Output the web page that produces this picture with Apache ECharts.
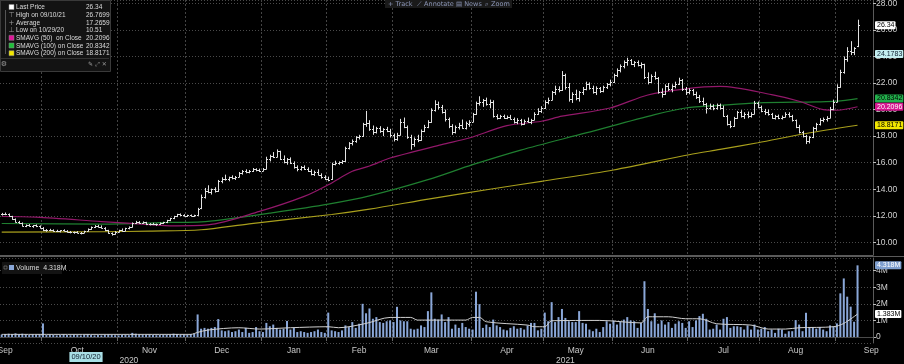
<!DOCTYPE html>
<html><head><meta charset="utf-8">
<script src="https://cdn.jsdelivr.net/npm/echarts@6/dist/echarts.min.js"></script>
<style>html,body{margin:0;padding:0;background:#000;}#c{width:904px;height:364px;}</style>
</head><body><div id="c"></div>
<script>
// ---- data ----
// daily bars from 2020-09-15 to 2021-09-10: [open, high, low, close]
const bars = [
[12.10,12.22,12.02,12.15],[12.15,12.25,12.05,12.12],[12.10,12.18,11.95,12.00],[11.95,12.00,11.70,11.75],[11.75,11.80,11.50,11.55],
[11.55,11.62,11.40,11.48],[11.45,11.50,11.20,11.25],[11.25,11.35,11.15,11.30],[11.30,11.38,11.18,11.22],[11.22,11.30,11.10,11.28],
[11.28,11.35,11.15,11.20],[11.20,11.28,11.05,11.10],[11.10,11.15,10.85,10.90],[10.92,11.00,10.80,10.95],[10.95,11.02,10.85,10.90],
[10.90,10.98,10.80,10.88],[10.88,10.95,10.78,10.85],[10.85,10.92,10.75,10.90],[10.90,10.98,10.82,10.86],[10.86,10.92,10.74,10.80],
[10.80,10.86,10.68,10.75],[10.75,10.82,10.65,10.78],[10.78,10.85,10.68,10.72],[10.72,10.78,10.60,10.70],[10.72,10.88,10.70,10.85],
[10.85,11.05,10.82,11.00],[11.00,11.20,10.95,11.15],[11.15,11.30,11.08,11.25],[11.25,11.32,11.12,11.18],[11.18,11.28,11.05,11.10],
[11.10,11.15,10.85,10.90],[10.90,10.95,10.65,10.70],[10.70,10.75,10.51,10.60],[10.62,10.85,10.58,10.80],[10.80,10.95,10.75,10.90],
[10.90,11.05,10.82,10.88],[10.88,11.10,10.85,11.05],[11.05,11.20,10.98,11.15],[11.15,11.50,11.12,11.45],[11.45,11.62,11.38,11.55],
[11.55,11.60,11.40,11.45],[11.45,11.58,11.40,11.52],[11.50,11.55,11.30,11.35],[11.35,11.45,11.28,11.40],[11.40,11.48,11.30,11.35],
[11.35,11.42,11.25,11.38],[11.38,11.50,11.32,11.45],[11.45,11.55,11.38,11.50],[11.50,11.70,11.45,11.65],[11.65,11.85,11.60,11.80],
[11.80,12.00,11.75,11.95],[11.95,12.15,11.90,12.10],[12.10,12.18,11.98,12.05],[12.05,12.12,11.95,12.00],[12.00,12.08,11.92,12.05],
[12.05,12.10,11.95,11.98],[11.98,12.08,11.92,12.05],[12.05,12.60,12.00,12.50],[12.60,13.60,12.50,13.40],[13.40,14.10,13.30,13.90],
[13.90,14.30,13.70,13.80],[13.80,14.05,13.60,14.00],[14.00,14.15,13.75,13.85],[13.85,14.70,13.80,14.60],[14.60,14.90,14.45,14.80],
[14.80,15.10,14.65,14.75],[14.75,14.95,14.60,14.90],[14.90,15.05,14.75,14.85],[14.85,15.00,14.70,14.95],[14.95,15.30,14.90,15.20],
[15.20,15.45,15.10,15.35],[15.35,15.50,15.20,15.30],[15.30,15.45,15.20,15.40],[15.40,15.60,15.30,15.50],[15.50,15.58,15.35,15.45],
[15.45,15.55,15.30,15.38],[15.40,15.60,15.35,15.55],[15.55,16.45,15.50,16.30],[16.30,16.60,16.10,16.50],[16.50,16.80,16.35,16.45],
[16.45,17.00,16.40,16.85],[16.85,16.90,16.20,16.30],[16.30,16.55,15.95,16.05],[16.05,16.35,15.85,16.25],[16.25,16.40,15.90,16.00],
[16.00,16.10,15.55,15.65],[15.65,15.80,15.35,15.50],[15.50,15.75,15.40,15.70],[15.70,15.80,15.45,15.55],[15.55,15.65,15.30,15.40],
[15.40,15.50,15.05,15.15],[15.15,15.40,15.00,15.30],[15.30,15.50,15.05,15.10],[15.10,15.20,14.80,14.90],[14.90,15.05,14.70,14.80],
[14.80,14.95,14.60,14.70],[14.75,16.00,14.70,15.90],[15.90,16.15,15.80,15.95],[15.95,16.10,15.85,16.05],[16.05,16.20,15.90,16.10],
[16.10,17.20,16.05,17.10],[17.10,17.55,17.00,17.45],[17.45,17.75,17.30,17.60],[17.60,18.00,17.50,17.90],[17.90,18.10,17.75,18.00],
[18.00,19.00,17.95,18.90],[18.90,19.90,18.70,19.00],[19.00,19.20,18.40,18.55],[18.55,18.80,18.10,18.30],[18.30,18.70,18.20,18.60],
[18.60,18.75,18.25,18.35],[18.35,18.60,18.00,18.50],[18.50,18.70,18.30,18.40],[18.40,18.55,17.90,18.05],[18.05,18.20,17.60,17.75],
[17.75,18.25,17.65,18.10],[18.10,19.30,18.05,19.10],[19.10,19.40,18.60,18.70],[18.70,18.80,17.80,17.95],[17.95,18.10,16.98,17.40],
[17.40,17.90,17.20,17.80],[17.80,18.10,17.55,17.70],[17.70,18.50,17.65,18.40],[18.40,18.85,18.30,18.70],[18.70,19.20,18.60,19.05],
[19.05,20.10,19.00,19.95],[19.95,20.70,19.85,20.40],[20.40,20.60,20.00,20.20],[20.20,20.35,19.70,19.85],[19.85,20.00,19.10,19.30],
[19.30,19.40,18.60,18.75],[18.75,18.90,18.10,18.30],[18.30,18.80,18.20,18.70],[18.70,19.00,18.50,18.85],[18.85,19.25,18.55,18.65],
[18.65,19.10,18.50,19.00],[18.95,19.20,18.70,19.10],[19.10,19.75,19.05,19.65],[19.65,20.60,19.60,20.50],[20.50,21.00,20.30,20.60],
[20.60,20.80,20.20,20.70],[20.70,20.90,20.30,20.45],[20.45,20.75,20.10,20.60],[20.60,20.70,19.40,19.55],[19.55,19.65,19.25,19.40],
[19.40,19.60,19.30,19.50],[19.50,19.62,19.30,19.35],[19.35,19.55,19.28,19.45],[19.45,19.60,19.25,19.30],[19.30,19.40,18.95,19.10],
[19.10,19.35,18.90,19.25],[19.25,19.30,18.80,18.95],[18.95,19.25,18.85,19.15],[19.15,19.40,19.00,19.05],[19.05,19.30,18.90,19.25],
[19.25,19.80,19.20,19.70],[19.70,20.10,19.60,19.90],[19.90,20.25,19.75,20.15],[20.15,20.70,20.05,20.60],[20.60,20.90,20.40,20.75],
[20.75,21.40,20.70,21.30],[21.30,21.80,21.10,21.55],[21.55,21.75,21.30,21.45],[21.45,22.90,21.40,22.60],[22.60,22.70,21.50,21.70],
[21.70,22.00,20.60,20.80],[20.80,21.30,20.50,21.20],[21.20,21.50,20.70,20.90],[20.90,21.40,20.60,21.30],[21.30,21.70,21.10,21.55],
[21.55,22.10,21.45,21.95],[21.95,22.05,21.50,21.65],[21.65,21.80,21.20,21.35],[21.35,21.75,21.10,21.60],[21.60,21.70,21.25,21.40],
[21.40,21.80,21.30,21.70],[21.70,22.00,21.55,21.90],[21.90,22.25,21.75,22.10],[22.10,22.70,22.00,22.60],[22.60,23.10,22.45,22.95],
[22.95,23.40,22.80,23.25],[23.25,23.70,23.10,23.55],[23.55,23.90,23.30,23.70],[23.70,23.80,23.35,23.45],[23.45,23.65,23.20,23.55],
[23.55,23.70,23.25,23.35],[23.35,23.55,23.10,23.40],[23.40,23.45,22.30,22.45],[22.45,22.80,21.90,22.05],[22.05,22.65,22.00,22.55],
[22.55,22.85,22.25,22.35],[22.35,22.45,21.20,21.35],[21.35,21.60,20.90,21.20],[21.20,21.90,21.10,21.75],[21.75,22.00,21.40,21.55],
[21.55,21.90,21.30,21.80],[21.80,22.10,21.60,21.95],[21.95,22.40,21.85,22.20],[22.20,22.30,21.40,21.55],[21.55,21.70,21.10,21.30],
[21.30,21.60,21.15,21.45],[21.45,21.55,21.05,21.20],[21.20,21.35,20.80,20.95],[20.95,21.10,20.50,20.65],[20.65,20.90,20.30,20.40],
[20.40,20.50,19.70,20.15],[20.15,20.45,20.00,20.30],[20.30,20.40,19.95,20.10],[20.10,20.45,20.00,20.35],[20.35,20.45,20.00,20.15],
[20.15,20.30,19.45,19.55],[19.55,19.60,18.80,18.95],[18.95,19.15,18.60,18.75],[18.75,19.45,18.70,19.35],[19.35,19.90,19.30,19.80],
[19.80,19.95,19.40,19.55],[19.55,19.80,19.30,19.70],[19.70,19.85,19.35,19.50],[19.50,19.80,19.40,19.70],[19.70,20.65,19.65,20.50],
[20.50,20.60,20.10,20.20],[20.20,20.30,19.80,19.90],[19.90,20.05,19.60,19.85],[19.85,20.00,19.55,19.65],[19.65,19.75,19.30,19.40],
[19.40,19.60,19.25,19.50],[19.50,19.62,19.28,19.35],[19.35,19.55,19.25,19.45],[19.45,19.80,19.40,19.70],[19.70,19.80,19.40,19.50],
[19.50,19.60,19.10,19.20],[19.20,19.25,18.60,18.70],[18.70,18.85,18.20,18.30],[18.30,18.40,17.90,18.00],[18.00,18.10,17.40,17.60],
[17.60,18.00,17.45,17.90],[17.90,18.70,17.85,18.60],[18.60,19.00,18.40,18.90],[18.90,19.35,18.80,19.20],[19.20,19.40,19.05,19.30],
[19.30,19.50,19.10,19.40],[19.40,20.20,19.35,20.05],[20.05,20.75,19.95,20.60],[20.60,21.90,20.55,21.70],[21.70,23.00,21.65,22.80],
[22.80,24.00,22.70,23.80],[23.80,24.70,23.60,24.40],[24.40,25.15,24.10,24.30],[24.30,24.70,24.10,24.60],[24.75,26.77,24.70,26.34]
];
// daily volume, millions
const volumes = [
0.15,0.18,0.20,0.17,0.22,0.18,0.20,0.15,0.12,0.15,0.14,0.16,0.82,0.12,0.14,0.13,0.10,0.12,0.15,0.12,
0.11,0.14,0.12,0.10,0.13,0.16,0.12,0.10,0.12,0.10,0.13,0.15,0.12,0.11,0.10,0.13,0.12,0.11,0.25,0.20,
0.15,0.12,0.13,0.14,0.12,0.11,0.13,0.12,0.15,0.13,0.20,0.18,0.14,0.15,0.13,0.18,0.20,1.36,0.50,0.55,
0.50,0.55,0.60,1.08,0.40,0.35,0.40,0.30,0.35,0.45,0.30,0.55,0.25,0.30,0.60,0.35,0.30,0.85,0.65,0.75,
0.55,0.45,0.50,0.97,0.45,0.55,0.30,0.35,0.30,0.25,0.30,0.35,0.45,0.30,0.25,1.47,0.40,0.35,0.30,0.40,
0.70,0.60,0.90,0.55,0.80,2.00,1.43,1.72,1.10,1.20,0.90,0.85,0.95,1.00,0.90,1.82,1.00,0.95,0.95,0.50,
0.45,0.50,0.70,0.60,1.56,2.69,1.10,1.05,1.36,0.90,1.20,0.50,0.75,0.55,0.85,0.60,0.50,0.45,2.73,1.98,
0.55,0.75,0.60,1.05,0.70,0.60,0.45,0.40,0.55,0.65,0.50,0.55,0.45,0.70,0.85,0.85,0.40,0.50,1.47,0.95,
2.10,0.90,1.20,1.69,1.15,0.95,0.90,0.90,1.56,0.85,0.80,0.45,0.35,0.50,0.30,0.60,0.95,0.80,1.00,0.75,
0.95,1.05,1.20,1.00,0.95,0.55,0.85,3.36,1.69,0.95,1.43,0.80,1.00,0.75,0.90,0.55,0.80,0.95,0.85,0.55,
0.95,0.60,1.00,1.26,1.40,1.10,0.45,0.50,0.75,0.45,1.10,1.20,0.55,0.65,0.65,0.60,0.45,0.70,0.45,0.75,
0.45,0.50,0.60,0.35,0.45,0.25,0.50,0.45,0.20,0.35,0.35,1.02,0.75,0.35,1.46,0.55,0.60,0.50,0.60,0.45,
0.35,0.70,0.65,0.82,2.63,3.53,2.43,1.83,0.92,4.318
];
// moving averages read at sampled bars: [bar index, value]
const sma50 = [[0,11.95],[10,11.9],[29,11.57],[44,11.32],[49,11.25],[60,11.32],[75,12.33],[88,13.46],[95,14.34],
  [102,15.35],[107,15.75],[113,16.35],[128,17.36],[136,17.86],[147,18.79],[157,19.12],[163,19.5],[177,20.12],
  [188,21.1],[199,21.56],[209,21.74],[224,21.13],[232,20.63],[239,20.0],[243,19.95],[249,20.21]];
const sma100 = [[0,11.42],[29,11.38],[49,11.5],[58,11.55],[64,11.7],[78,12.2],[95,12.88],[107,13.5],[124,14.72],
  [137,15.85],[151,16.95],[170,18.24],[190,19.62],[199,20.12],[209,20.32],[220,20.5],[237,20.58],[243,20.63],[249,20.83]];
const sma200 = [[0,10.77],[29,10.8],[43,10.85],[58,10.95],[72,11.4],[96,12.1],[107,12.5],[125,13.3],[142,14.0],
  [157,14.6],[178,15.45],[200,16.6],[209,17.0],[220,17.5],[234,18.2],[249,18.82]];
const volAvg = [[0,0.16],[55,0.16],[57,0.28],[60,0.42],[69,0.56],[75,0.48],[84,0.56],[95,0.62],[98,0.56],[106,0.82],
  [113,1.18],[119,1.18],[121,1.02],[135,1.02],[137,1.18],[139,1.18],[141,0.92],[153,0.72],[155,0.62],[158,0.62],
  [160,0.98],[174,1.0],[186,0.85],[188,1.22],[194,1.22],[199,1.1],[203,1.1],[208,0.8],[218,0.72],[223,0.48],
  [228,0.48],[232,0.56],[242,0.62],[245,0.82],[249,1.383]];
const priceTicks = ['10.00','12.00','14.00','16.00','18.00','20.00','22.00','24.00','26.00','28.00'];
const volTicks = ['0','1M','2M','3M','4M'];
const monthNames = ['Jan','Feb','Mar','Apr','May','Jun','Jul','Aug','Sep','Oct','Nov','Dec'];
const legendRows = [
  ['Last Price','26.34','#ffffff','sq'],
  ['High on 09/10/21','26.7699','#aaaaaa','hi'],
  ['Average','17.2659','#aaaaaa','avg'],
  ['Low on 10/29/20','10.51','#aaaaaa','lo'],
  ['SMAVG (50)  on Close','20.2096','#e0179a','sq'],
  ['SMAVG (100) on Close','20.8342','#1fbf3a','sq'],
  ['SMAVG (200) on Close','18.8171','#f2e600','sq']
];
const lastTags = [
  [26.34,'26.34','#ffffff','#000'],
  [24.1783,'24.1783','#c4eef0','#123'],
  [20.8342,'20.8342','#22b14c','#000'],
  [20.2096,'20.2096','#d6168f','#fff'],
  [18.8171,'18.8171','#f2e600','#000']
];
const volTags = [[4.318,'4.318M','#7f9fcf','#fff'],[1.383,'1.383M','#ffffff','#000']];
const toolbarItems = ['+ Track','⟋ Annotate','▤ News','⌕ Zoom'];

// ---- trading calendar ----
const holidays = new Set(['2020-09-07','2020-11-26','2020-12-25','2021-01-01','2021-01-18','2021-02-15','2021-04-02','2021-05-31','2021-07-05','2021-09-06']);
function ymd(d){return d.toISOString().slice(0,10);}
const allDays = [];
for (let d = new Date(Date.UTC(2020,8,1)); d <= new Date(Date.UTC(2021,8,30)); d.setUTCDate(d.getUTCDate()+1)) {
  const wd = d.getUTCDay(); const s = ymd(d);
  if (wd !== 0 && wd !== 6 && !holidays.has(s)) allDays.push(s);
}
const startIdx = allDays.indexOf('2020-09-15');
const endIdx = allDays.indexOf('2021-09-16');
const dates = allDays.slice(startIdx, endIdx + 1);
const monthStart = new Set(); const monthMid = new Set();
{
  const groups = {};
  allDays.forEach((s,i)=>{const k=s.slice(0,7); (groups[k]=groups[k]||[]).push(i-startIdx);});
  Object.values(groups).forEach(g=>{ if (g[0]>0) monthStart.add(g[0]); monthMid.add(Math.floor((g[0]+g[g.length-1])/2)); });
}
const yearMid = new Set();
{
  const yg = {};
  dates.forEach((s,i)=>{const k=s.slice(0,4); (yg[k]=yg[k]||[]).push(i);});
  Object.values(yg).forEach(g=>yearMid.add(Math.floor((g[0]+g[g.length-1])/2)));
}

const FONT = 'Liberation Sans, Arial, sans-serif';
const gridLineH = {show:true, lineStyle:{color:'#4a4a4a', type:[1,2], width:1}};
const gridLineV = {show:true, lineStyle:{color:'#444', type:[2,2], width:1}};

function tagLine(list){
  return {silent:true, symbol:['none','none'], animation:false,
    lineStyle:{color:'rgba(0,0,0,0)', width:0, opacity:1},
    data:list.map(t=>({yAxis:t[0], lineStyle:{color:'rgba(0,0,0,0)', width:0, opacity:1},
      label:{show:true, position:'end', distance:2, formatter:t[1], opacity:1,
      backgroundColor:t[2], color:t[3], fontSize:7, fontFamily:FONT, padding:[1,1,0,2], borderRadius:1}}))};
}

const chart = echarts.init(document.getElementById('c'), null, {renderer:'canvas'});
const option = {
  backgroundColor:'#000',
  animation:false,
  textStyle:{fontFamily:FONT},
  grid:[
    {left:0, right:31, top:0, height:255, outerBoundsMode:'none'},
    {left:0, right:31, top:258, height:85, outerBoundsMode:'none'}
  ],
  xAxis:[
    {type:'category', gridIndex:0, data:dates, boundaryGap:true,
     axisLine:{show:true, lineStyle:{color:'#5a5a5a'}}, axisTick:{show:false}, axisLabel:{show:false},
     splitLine:Object.assign({interval:(i)=>monthStart.has(i)}, gridLineV)},
    {type:'category', gridIndex:1, data:dates, boundaryGap:true,
     axisLine:{show:true, lineStyle:{color:'#4a4a4a'}},
     axisTick:{show:true, interval:(i)=>monthStart.has(i), length:4, lineStyle:{color:'#666'}},
     axisLabel:{interval:(i)=>monthMid.has(i), formatter:(v)=>monthNames[+v.slice(5,7)-1],
       color:'#c8c8c8', fontSize:8.5, margin:3, hideOverlap:false},
     splitLine:Object.assign({interval:(i)=>monthStart.has(i)}, gridLineV)},
    {type:'category', gridIndex:1, data:dates, boundaryGap:true, position:'bottom', offset:10,
     axisLine:{show:false}, axisTick:{show:false}, splitLine:{show:false},
     axisLabel:{interval:(i)=>yearMid.has(i), formatter:(v)=>v.slice(0,4), color:'#c8c8c8', fontSize:8.5, margin:3, hideOverlap:false}}
  ],
  yAxis:[
    {type:'value', gridIndex:0, position:'right', min:9.05, max:28.25, splitNumber:10, scale:true,
     axisLine:{show:true, lineStyle:{color:'#5a5a5a'}},
     axisTick:{show:true, length:3, lineStyle:{color:'#bbb'}},
     axisLabel:{formatter:(v)=>{const s=v.toFixed(2); return priceTicks.includes(s)?s:'';}, color:'#d0d0d0', fontSize:8.5, margin:3, showMinLabel:false, showMaxLabel:false},
     splitLine:gridLineH},
    {type:'value', gridIndex:1, position:'right', min:-0.36, max:4.76, splitNumber:5,
     axisLine:{show:true, lineStyle:{color:'#5a5a5a'}},
     axisTick:{show:true, length:3, lineStyle:{color:'#bbb'}},
     axisLabel:{formatter:(v)=>{const s=v===0?'0':(Math.round(v)+'M'); return volTicks.includes(s)&&Math.abs(v-Math.round(v))<1e-6?s:'';}, color:'#d0d0d0', fontSize:8.5, margin:3, showMinLabel:false, showMaxLabel:false},
     splitLine:gridLineH}
  ],
  series:[
    {type:'line', name:'SMA200', xAxisIndex:0, yAxisIndex:0, data:sma200, symbol:'none', smooth:0.3,
     lineStyle:{color:'#a89f1c', width:1.2}, z:2, markLine:tagLine([lastTags[0],lastTags[1],lastTags[4]])},
    {type:'line', name:'SMA100', xAxisIndex:0, yAxisIndex:0, data:sma100, symbol:'none', smooth:0.3,
     lineStyle:{color:'#1f7f30', width:1.2}, z:2, markLine:tagLine([lastTags[2]])},
    {type:'line', name:'SMA50', xAxisIndex:0, yAxisIndex:0, data:sma50, symbol:'none', smooth:0.3,
     lineStyle:{color:'#92186a', width:1.2}, z:2, markLine:tagLine([lastTags[3]])},
    {type:'custom', name:'Price', xAxisIndex:0, yAxisIndex:0, z:3, clip:true,
     data:bars.map((b,i)=>[i,b[0],b[1],b[2],b[3]]),
     encode:{x:0, y:[1,2,3,4]},
     renderItem:function(params, api){
       const i = api.value(0);
       const o = api.coord([i, api.value(1)]);
       const h = api.coord([i, api.value(2)]);
       const l = api.coord([i, api.value(3)]);
       const c = api.coord([i, api.value(4)]);
       const x = Math.round(o[0]) + 0.5;
       const st = {stroke:'#e2e2e2', lineWidth:1};
       return {type:'group', children:[
         {type:'line', shape:{x1:x, y1:h[1], x2:x, y2:l[1]}, style:st},
         {type:'line', shape:{x1:x-1.5, y1:Math.round(o[1])+0.5, x2:x, y2:Math.round(o[1])+0.5}, style:st},
         {type:'line', shape:{x1:x, y1:Math.round(c[1])+0.5, x2:x+1.5, y2:Math.round(c[1])+0.5}, style:st}
       ]};
     }},
    {type:'bar', name:'Volume', xAxisIndex:1, yAxisIndex:1, data:volumes, barWidth:2,
     itemStyle:{color:'#8aa7d8'}, z:2, markLine:tagLine([volTags[0]])},
    {type:'line', name:'VolAvg', xAxisIndex:1, yAxisIndex:1, data:volAvg, symbol:'none', smooth:0.3,
     lineStyle:{color:'#cfcfcf', width:1}, z:3, markLine:tagLine([volTags[1]])}
  ],
  graphic:{elements:[]}
};

// legend panel (top-left)
const g = [];
g.push({type:'rect', left:0, top:0, shape:{width:110, height:71}, style:{fill:'#131313', stroke:'#3a3a3a', lineWidth:1}, z:100});
g.push({type:'line', shape:{x1:1, y1:58.5, x2:109, y2:58.5}, style:{stroke:'#333'}, z:101});
g.push({type:'line', shape:{x1:5.5, y1:10, x2:5.5, y2:54}, style:{stroke:'#555'}, z:101});
legendRows.forEach((r,k)=>{
  const y = 7.5 + k*7.7;
  if (r[3]==='sq') {
    g.push({type:'rect', shape:{x:9, y:y-3, width:5, height:5}, style:{fill:r[2], stroke:'#888', lineWidth:0.5}, z:102});
  } else {
    const sym = r[3]==='hi' ? '⊤' : (r[3]==='lo' ? '⊥' : '+');
    g.push({type:'text', x:11.5, y:y, style:{text:sym, fill:'#999', fontSize:7, fontFamily:'DejaVu Sans', align:'center', verticalAlign:'middle'}, z:102});
  }
  g.push({type:'text', x:16, y:y, style:{text:r[0], fill:'#dcdcdc', fontSize:6.5, fontFamily:FONT, verticalAlign:'middle'}, z:102});
  g.push({type:'text', x:86, y:y, style:{text:r[1], fill:'#dcdcdc', fontSize:6.5, fontFamily:FONT, verticalAlign:'middle'}, z:102});
});
g.push({type:'text', x:4, y:64.5, style:{text:'⚙', fill:'#999', fontSize:7, fontFamily:'DejaVu Sans', align:'center', verticalAlign:'middle'}, z:102});
g.push({type:'text', x:88, y:64.5, style:{text:'✎ ⤢ ✕', fill:'#999', fontSize:6, fontFamily:'DejaVu Sans', verticalAlign:'middle'}, z:102});
// toolbar
g.push({type:'rect', shape:{x:385, y:0, width:127, height:8}, style:{fill:'#1a1a1a'}, z:100});
[388,417,456,485].forEach((x,k)=>{
  g.push({type:'text', x:x, y:4, style:{text:toolbarItems[k], fill:'#8d97b8', fontSize:6.5, fontFamily:'DejaVu Sans', verticalAlign:'middle'}, z:101});
});
// volume legend
g.push({type:'rect', shape:{x:2, y:262, width:60, height:12}, style:{fill:'#131313'}, z:100});
g.push({type:'rect', shape:{x:4, y:266, width:3, height:3}, style:{fill:'none', stroke:'#888', lineWidth:0.6}, z:101});
g.push({type:'rect', shape:{x:9, y:265, width:5, height:5}, style:{fill:'#8aa7d8'}, z:101});
g.push({type:'text', x:16, y:268, style:{text:'Volume  4.318M', fill:'#dcdcdc', fontSize:7, fontFamily:FONT, verticalAlign:'middle'}, z:101});
// start-date marker on the time axis
g.push({type:'text', x:86, y:357, style:{text:'09/10/20', fill:'#102030', fontSize:7.5, fontFamily:FONT, align:'center', verticalAlign:'middle', backgroundColor:'#a9dfe6', padding:[1,2]}, z:101});
// panel separator
g.push({type:'line', shape:{x1:0, y1:256.5, x2:904, y2:256.5}, style:{stroke:'#5a5a5a', lineWidth:1}, z:50});
option.graphic.elements = g;

chart.setOption(option);
</script>
</body></html>
